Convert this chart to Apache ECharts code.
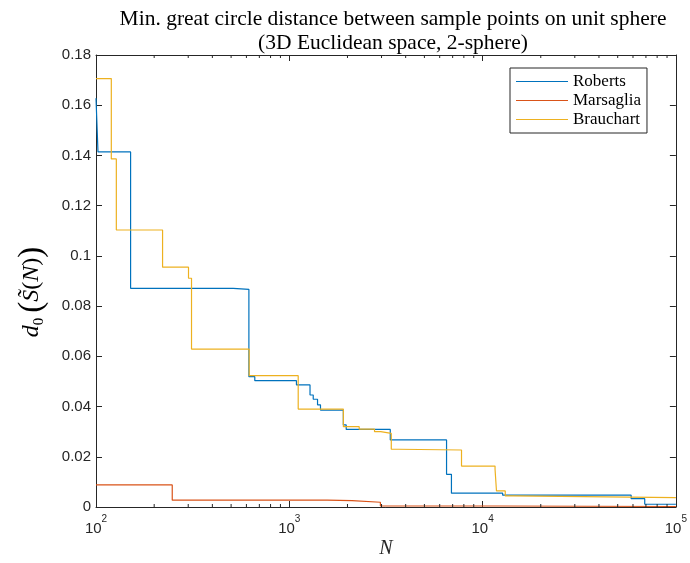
<!DOCTYPE html>
<html>
<head>
<meta charset="utf-8">
<title>Min. great circle distance</title>
<script src="https://cdn.jsdelivr.net/npm/echarts@6/dist/echarts.min.js"></script>
<style>
  html, body { margin: 0; padding: 0; background: #fff; }
  #chart { width: 690px; height: 563px; }
</style>
</head>
<body>
<div id="chart"></div>
<script>
// Step breakpoints [N, d0]: each value holds until the next N.
const roberts = [
  [100, 0.1628], [102.4, 0.1414], [151, 0.0871], [513, 0.0867], [618, 0.0519],
  [663, 0.0503], [1089, 0.0486], [1280, 0.0446], [1330, 0.0429], [1400, 0.0407],
  [1450, 0.0386], [1904, 0.0327], [1970, 0.0309], [3330, 0.0267], [6510, 0.0130],
  [6900, 0.0055], [12700, 0.0047], [58700, 0.0033], [69000, 0.0011], [100000, 0.0011]
];
const marsaglia = [
  [100, 0.0088], [248, 0.0027], [1570, 0.0025], [2110, 0.0019], [2960, 0.0004],
  [12000, 0.0002], [100000, 0.0002]
];
const brauchart = [
  [100, 0.1706], [120, 0.1386], [127.4, 0.1103], [221, 0.0955], [301, 0.0911],
  [312, 0.0629], [620, 0.0523], [1112, 0.0390], [1904, 0.0320], [2300, 0.0310],
  [2760, 0.0300], [2970, 0.0293], [3370, 0.0230], [3670, 0.0227], [7780, 0.0163],
  [11600, 0.0150], [11800, 0.0064], [13100, 0.0044], [14500, 0.0037], [100000, 0.0037]
];
const seriesNames = ['Roberts', 'Marsaglia', 'Brauchart'];
const seriesColors = ['#0072BD', '#D95319', '#EDB120'];
const yTicks = { min: 0, max: 0.18, step: 0.02 };
const xRange = { min: 100, max: 100000 };
// Log-scale minor tick positions (2..9 within each decade)
const minorTicks = [];
[100, 1000, 10000].forEach(d => { for (let k = 2; k <= 9; k++) minorTicks.push(d * k); });

const axisColor = '#262626';
const sans = 'Liberation Sans, Arial, Helvetica, sans-serif';
const serif = 'Liberation Serif, Times New Roman, serif';

const chart = echarts.init(document.getElementById('chart'), null, { renderer: 'canvas' });

function logAxis(pos, showLabel) {
  return {
    type: 'log', logBase: 10, position: pos, min: xRange.min, max: xRange.max,
    axisLine: { show: true, onZero: false, lineStyle: { color: axisColor, width: 1 } },
    axisTick: { show: true, inside: true, length: 6, lineStyle: { color: axisColor } },
    splitLine: { show: false },
    axisLabel: {
      show: showLabel, margin: 7, color: axisColor,
      formatter: v => '{b|10}{s|' + Math.round(Math.log10(v)) + '}',
      rich: {
        b: { fontFamily: sans, fontSize: 15, color: axisColor, lineHeight: 22, verticalAlign: 'bottom' },
        s: { fontFamily: sans, fontSize: 10, color: axisColor, lineHeight: 12, verticalAlign: 'top' }
      }
    }
  };
}
function valAxis(pos, showLabel) {
  return {
    type: 'value', position: pos, min: yTicks.min, max: yTicks.max, interval: yTicks.step,
    axisLine: { show: true, onZero: false, lineStyle: { color: axisColor, width: 1 } },
    axisTick: { show: true, inside: true, length: 6, lineStyle: { color: axisColor } },
    splitLine: { show: false },
    axisLabel: {
      show: showLabel, margin: 5, color: axisColor, fontFamily: sans, fontSize: 15,
      formatter: v => String(Math.round(v * 100) / 100)
    }
  };
}

const lineSeries = [roberts, marsaglia, brauchart].map((d, i) => ({
  name: seriesNames[i], type: 'line', step: 'end', data: d,
  symbol: 'none', showSymbol: false, color: seriesColors[i],
  lineStyle: { color: seriesColors[i], width: 1.2 },
  xAxisIndex: 0, yAxisIndex: 0, animation: false, z: 2
}));

const minorTickSeries = {
  type: 'custom', xAxisIndex: 0, yAxisIndex: 0, silent: true, animation: false, z: 5,
  data: minorTicks.map(v => [v, yTicks.min]),
  renderItem: (params, api) => {
    const bottom = api.coord([api.value(0), yTicks.min]);
    const top = api.coord([api.value(0), yTicks.max]);
    const st = { stroke: axisColor, lineWidth: 1 };
    return {
      type: 'group', children: [
        { type: 'line', shape: { x1: bottom[0], y1: bottom[1], x2: bottom[0], y2: bottom[1] - 3 }, style: st },
        { type: 'line', shape: { x1: top[0], y1: top[1], x2: top[0], y2: top[1] + 3 }, style: st }
      ]
    };
  }
};

chart.setOption({
  backgroundColor: '#ffffff',
  animation: false,
  grid: { left: 96, right: 14, top: 55, bottom: 56, containLabel: false },
  xAxis: [logAxis('bottom', true), logAxis('top', false)],
  yAxis: [valAxis('left', true), valAxis('right', false)],
  legend: {
    orient: 'vertical', left: 510, top: 68,
    data: seriesNames,
    icon: 'path://M0,0 L52,0 L52,1 L0,1 Z',
    itemWidth: 52, itemHeight: 1.4, itemGap: 2,
    padding: [5, 6, 5, 6],
    backgroundColor: '#ffffff', borderColor: axisColor, borderWidth: 1, borderRadius: 0,
    textStyle: { fontFamily: serif, fontSize: 17, lineHeight: 17, color: '#000' }
  },
  graphic: [
    {
      type: 'text', x: 393, y: 7, z: 10,
      style: {
        text: 'Min. great circle distance between sample points on unit sphere\n(3D Euclidean space, 2-sphere)',
        align: 'center', verticalAlign: 'top', fontFamily: serif, fontSize: 21.5, lineHeight: 24, fill: '#000'
      }
    },
    {
      type: 'text', x: 386, y: 549, z: 10,
      style: { text: 'N', align: 'center', verticalAlign: 'middle', fontFamily: serif, fontStyle: 'italic', fontSize: 20, fill: '#262626' }
    },
    {
      type: 'text', x: 32, y: 292, rotation: Math.PI / 2, z: 10,
      style: {
        text: '{i|d}{z|0}{p|(}{i|S\u0303}{q|(}{i|N}{q|)}{p|)}',
        align: 'center', verticalAlign: 'middle',
        rich: {
          i: { fontFamily: serif, fontStyle: 'italic', fontSize: 24, lineHeight: 30, color: '#262626' },
          z: { fontFamily: serif, fontSize: 15, lineHeight: 30, verticalAlign: 'bottom', padding: [0, 5, 0, 0], color: '#262626' },
          p: { fontFamily: serif, fontSize: 33, lineHeight: 30, color: '#262626' },
          q: { fontFamily: serif, fontSize: 24, lineHeight: 30, color: '#262626' }
        }
      }
    }
  ],
  series: lineSeries.concat([minorTickSeries])
});
</script>
</body>
</html>
